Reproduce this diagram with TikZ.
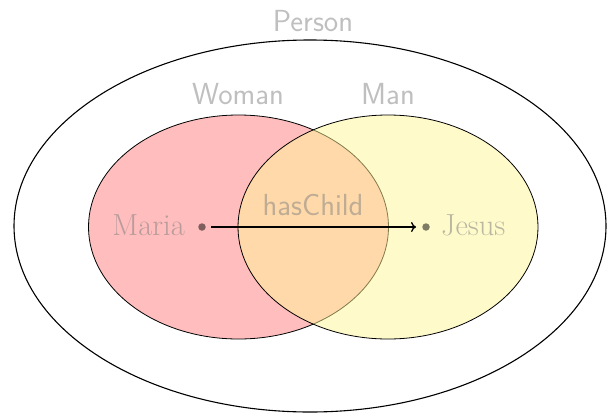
\documentclass[tikz,border=0pt]{standalone}
\usetikzlibrary{arrows.meta}
\definecolor{womanfill}{RGB}{255,189,189}
\definecolor{manfill}{RGB}{255,245,150}
\begin{document}
\begin{tikzpicture}[x=1pt,y=-1pt,
  label text/.style={text=black!50, text opacity=0.5, inner sep=0pt,
    font=\fontsize{30.5}{34}\selectfont\sffamily},
  member text/.style={text=black!50, text opacity=0.55, inner sep=0pt,
    font=\fontsize{30.5}{34}\selectfont},
  member dot/.style={circle, fill=black, fill opacity=0.5, inner sep=0pt, minimum size=7.5pt},
  set line/.style={draw=black, line width=0.8pt}]
\useasboundingbox (0,0) rectangle (608,413);

% class extents
\draw[line width=1.1pt] (310,226) ellipse [x radius=296, y radius=186];
\path[set line, fill=womanfill] (238.5,227) ellipse [x radius=150, y radius=112];
\path[set line, fill=manfill, fill opacity=0.5] (388,227) ellipse [x radius=150, y radius=112];

% class names
\node[label text, anchor=base] (person) at (313,31) {Person};
\node[label text, anchor=base] (woman) at (238,104) {Woman};
\node[label text, anchor=base] (man) at (388,104) {Man};

% individuals
\node[member dot] (mariadot) at (202,227) {};
\node[member dot] (jesusdot) at (426,227) {};
\node[member text, anchor=base east] (maria) at (185,235) {Maria};
\node[member text, anchor=base west] (jesus) at (441,235) {Jesus};

% property
\draw[line width=1.4pt, -{To[length=5pt,width=10pt]}, shorten <=5pt, shorten >=6pt]
  (mariadot) -- (jesusdot);
\node[label text, anchor=base] (haschild) at (313,215) {hasChild};
\end{tikzpicture}
\end{document}
